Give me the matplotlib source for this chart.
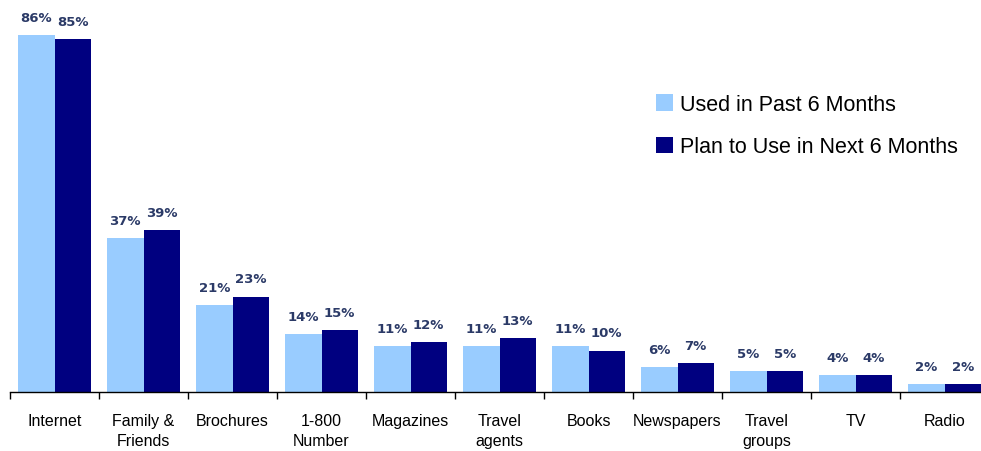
import matplotlib
matplotlib.use('Agg')
import matplotlib.pyplot as plt
import numpy as np

categories = ['Internet', 'Family &\nFriends', 'Brochures', '1-800\nNumber', 'Magazines',
              'Travel\nagents', 'Books', 'Newspapers', 'Travel\ngroups', 'TV', 'Radio']
used_past = [86, 37, 21, 14, 11, 11, 11, 6, 5, 4, 2]
plan_next = [85, 39, 23, 15, 12, 13, 10, 7, 5, 4, 2]
series_names = ['Used in Past 6 Months', 'Plan to Use in Next 6 Months']

light = '#99CCFF'
dark = '#000080'
label_color = '#2B3A67'

fig = plt.figure(figsize=(9.81, 4.52), dpi=100)
ax = fig.add_axes([10 / 981, 59 / 452, 979 / 981, 373.5 / 452])

x = np.arange(len(categories))
w = 0.41
b1 = ax.bar(x - w / 2, used_past, w, color=light, label=series_names[0])
b2 = ax.bar(x + w / 2, plan_next, w, color=dark, label=series_names[1])

for bars, vals in ((b1, used_past), (b2, plan_next)):
    for bar, v in zip(bars, vals):
        ax.annotate(f'{v}%', (bar.get_x() + bar.get_width() / 2, bar.get_height()),
                    xytext=(0, 8), textcoords='offset points', ha='center', va='bottom',
                    fontsize=9.5, fontweight='bold', color=label_color)

ax.set_xlim(-0.5, len(categories) - 0.5)
ax.set_ylim(0, 90)
ax.set_xticks(x)
ax.set_xticklabels(categories, fontsize=11.5, family=['Liberation Sans', 'DejaVu Sans'],
                   linespacing=1.45)
ax.set_xticks(np.arange(len(categories) + 1) - 0.5, minor=True)
ax.tick_params(axis='x', which='major', length=0, pad=15)
ax.tick_params(axis='x', which='minor', length=5, width=1, direction='out')
ax.set_yticks([])
for s in ('top', 'right', 'left'):
    ax.spines[s].set_visible(False)
ax.spines['bottom'].set_linewidth(1)

ax.legend(loc='upper left', bbox_to_anchor=(0.64, 0.85), frameon=False,
          prop={'family': ['Liberation Sans', 'DejaVu Sans'], 'size': 15.5},
          handlelength=0.8, handleheight=0.8, handletextpad=0.3, labelspacing=1.0)

fig.savefig('out.png', dpi=100)
